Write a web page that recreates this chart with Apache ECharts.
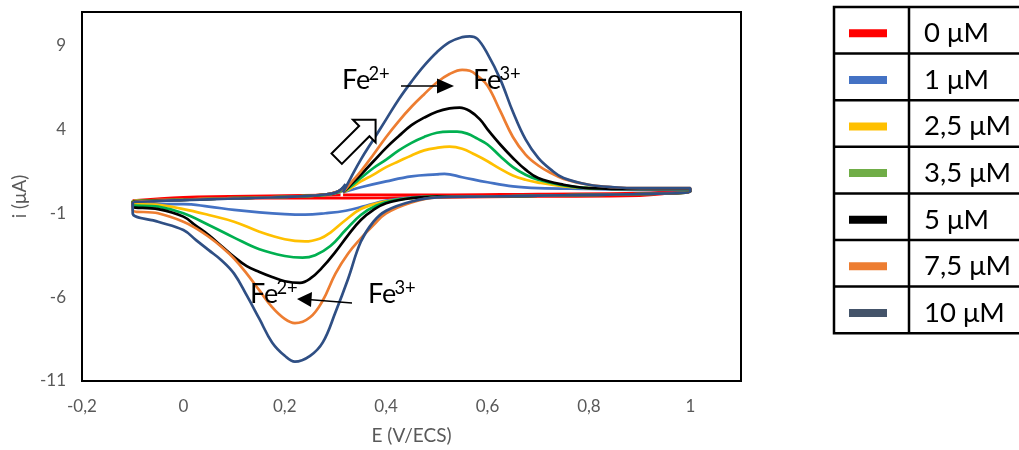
<!DOCTYPE html>
<html><head><meta charset="utf-8">
<script src="https://cdn.jsdelivr.net/npm/echarts@6/dist/echarts.min.js"></script>
<style>html,body{margin:0;padding:0;background:#fff}#c{width:1019px;height:450px}</style>
</head><body><div id="c"></div>
<script>
// ---- data ----
const seriesNames = ['0 μM','1 μM','2,5 μM','3,5 μM','5 μM','7,5 μM','10 μM'];
const lineColors = ['#FF0000','#4472C4','#FFC000','#00B050','#000000','#ED7D31','#2F4F84'];
const legendColors = ['#FF0000','#4472C4','#FFC000','#70AD47','#000000','#ED7D31','#44546A'];
const xTickValues = [-0.2,0,0.2,0.4,0.6,0.8,1];
const xTickLabels = ['-0,2','0','0,2','0,4','0,6','0,8','1'];
const yTickValues = [-11,-6,-1,4,9];
const yTickLabels = ['-11','-6','-1','4','9'];
const xTitle = 'E (V/ECS)';
const yTitle = 'i (μA)';

const cv0 = [[0.315,0.1],[0.5,0.1],[0.7,0.15],[0.9,0.2],[1.0,0.4],[0.9,0.05],[0.7,0.0],[0.5,-0.05],[0.3,-0.1],[0.1,-0.1],[-0.1,-0.25],[0.0,-0.05],[0.2,0.05],[0.31,0.1]];
const cv1 = [[0.315,0.25],[0.35,0.55],[0.40,0.9],[0.45,1.2],[0.50,1.32],[0.515,1.35],[0.55,1.15],[0.60,0.85],[0.65,0.6],[0.70,0.5],[0.80,0.45],[0.9,0.4],[1.0,0.4],
  [1.0,0.3],[0.9,0.15],[0.8,0.1],[0.7,0.05],[0.6,0.0],[0.5,0.0],[0.45,-0.05],[0.40,-0.25],[0.36,-0.55],[0.32,-0.85],[0.28,-1.0],[0.24,-1.08],[0.20,-1.05],[0.15,-0.95],[0.10,-0.8],[0.05,-0.6],[0.0,-0.45],[-0.1,-0.45],
  [-0.1,-0.3],[-0.05,-0.22],[0.0,-0.18],[0.1,-0.1],[0.2,-0.02],[0.28,0.1],[0.305,0.22],[0.315,0.35]];
const cv25 = [[0.315,0.25],[0.33,0.5],[0.35,0.9],[0.375,1.3],[0.40,1.75],[0.425,2.1],[0.45,2.45],[0.475,2.75],[0.50,2.9],[0.525,2.97],[0.55,2.85],[0.575,2.5],[0.60,2.1],[0.625,1.65],[0.65,1.25],[0.675,1.0],[0.70,0.83],[0.75,0.6],[0.80,0.5],[0.9,0.45],[1.0,0.45],
  [1.0,0.3],[0.9,0.15],[0.8,0.1],[0.7,0.05],[0.6,0.0],[0.5,0.0],[0.45,-0.1],[0.39,-0.35],[0.35,-0.75],[0.32,-1.4],[0.29,-2.15],[0.27,-2.5],[0.24,-2.68],[0.20,-2.55],[0.15,-2.1],[0.10,-1.5],[0.05,-1.1],[0.0,-0.75],[-0.05,-0.5],[-0.1,-0.45],
  [-0.1,-0.3],[-0.05,-0.22],[0.0,-0.18],[0.1,-0.1],[0.2,-0.02],[0.28,0.1],[0.305,0.25],[0.315,0.4]];
const cv35 = [[0.315,0.25],[0.33,0.6],[0.35,1.1],[0.375,1.7],[0.40,2.2],[0.425,2.75],[0.45,3.2],[0.475,3.55],[0.50,3.8],[0.525,3.87],[0.54,3.87],[0.56,3.75],[0.58,3.45],[0.60,3.1],[0.625,2.4],[0.65,1.75],[0.675,1.3],[0.70,1.0],[0.75,0.66],[0.80,0.5],[0.9,0.45],[1.0,0.45],
  [1.0,0.3],[0.9,0.15],[0.8,0.1],[0.7,0.05],[0.6,0.0],[0.5,0.0],[0.42,-0.2],[0.38,-0.55],[0.35,-1.1],[0.32,-2.0],[0.29,-2.95],[0.26,-3.5],[0.235,-3.65],[0.20,-3.55],[0.15,-3.15],[0.10,-2.45],[0.05,-1.7],[0.0,-1.0],[-0.05,-0.6],[-0.1,-0.5],
  [-0.1,-0.32],[-0.05,-0.24],[0.0,-0.2],[0.1,-0.1],[0.2,-0.02],[0.28,0.1],[0.305,0.25],[0.315,0.45]];
const cv5 = [[0.315,0.25],[0.33,0.7],[0.35,1.3],[0.375,2.1],[0.40,2.9],[0.425,3.6],[0.45,4.25],[0.475,4.7],[0.50,5.05],[0.525,5.25],[0.545,5.3],[0.565,5.1],[0.585,4.6],[0.60,4.0],[0.625,3.1],[0.65,2.3],[0.675,1.6],[0.70,1.1],[0.75,0.7],[0.80,0.5],[0.90,0.45],[1.0,0.45],
  [1.0,0.3],[0.9,0.15],[0.8,0.1],[0.7,0.05],[0.6,0.0],[0.5,0.0],[0.45,-0.1],[0.40,-0.4],[0.375,-0.8],[0.35,-1.4],[0.325,-2.3],[0.30,-3.3],[0.275,-4.2],[0.25,-4.9],[0.23,-5.15],[0.20,-5.05],[0.175,-4.8],[0.15,-4.5],[0.125,-4.15],[0.10,-3.6],[0.075,-2.95],[0.05,-2.3],[0.025,-1.75],[0.0,-1.2],[-0.05,-0.75],[-0.1,-0.6],
  [-0.1,-0.35],[-0.05,-0.25],[0.0,-0.2],[0.1,-0.1],[0.2,-0.02],[0.28,0.12],[0.305,0.3],[0.32,0.65]];
const cv75 = [[0.315,0.25],[0.33,0.8],[0.35,1.5],[0.375,2.5],[0.40,3.55],[0.425,4.5],[0.45,5.35],[0.475,6.1],[0.50,6.8],[0.525,7.3],[0.55,7.55],[0.565,7.5],[0.58,7.2],[0.60,6.6],[0.625,5.1],[0.65,3.55],[0.675,2.5],[0.70,1.85],[0.725,1.4],[0.75,1.05],[0.80,0.7],[0.85,0.55],[0.90,0.5],[1.0,0.5],
  [1.0,0.3],[0.9,0.15],[0.8,0.1],[0.7,0.05],[0.6,0.0],[0.5,-0.05],[0.45,-0.35],[0.40,-1.0],[0.375,-1.7],[0.35,-2.5],[0.325,-3.4],[0.30,-4.6],[0.275,-6.2],[0.25,-7.2],[0.22,-7.55],[0.20,-7.3],[0.175,-6.6],[0.15,-5.6],[0.125,-4.6],[0.10,-3.7],[0.075,-3.0],[0.05,-2.4],[0.025,-1.9],[0.0,-1.5],[-0.05,-1.0],[-0.1,-0.8],
  [-0.1,-0.38],[-0.05,-0.26],[0.0,-0.2],[0.1,-0.1],[0.2,-0.02],[0.28,0.12],[0.305,0.3],[0.32,0.6]];
const cv10 = [[0.315,0.25],[0.33,1.1],[0.35,2.2],[0.375,3.4],[0.40,4.6],[0.425,5.8],[0.45,6.85],[0.475,7.8],[0.50,8.6],[0.525,9.2],[0.55,9.5],[0.565,9.55],[0.58,9.4],[0.60,8.5],[0.625,7.0],[0.65,5.05],[0.675,3.4],[0.70,2.3],[0.725,1.6],[0.75,1.1],[0.80,0.7],[0.85,0.55],[0.90,0.5],[0.95,0.5],[1.0,0.5],
  [1.0,0.3],[0.9,0.15],[0.8,0.1],[0.7,0.05],[0.6,0.0],[0.5,-0.05],[0.45,-0.3],[0.40,-0.85],[0.375,-1.5],[0.35,-2.7],[0.325,-4.9],[0.30,-6.9],[0.275,-8.7],[0.25,-9.5],[0.22,-9.85],[0.20,-9.5],[0.175,-8.7],[0.15,-7.3],[0.125,-5.9],[0.10,-4.6],[0.075,-3.8],[0.05,-3.2],[0.025,-2.6],[0.0,-2.0],[-0.05,-1.5],[-0.1,-1.0],
  [-0.1,-0.4],[-0.05,-0.28],[0.0,-0.22],[0.1,-0.12],[0.2,-0.03],[0.28,0.12],[0.305,0.3],[0.32,0.75]];
const seriesData = [cv0, cv1, cv25, cv35, cv5, cv75, cv10];

// ---- chart ----
const FONT = 'Lato';
const chart = echarts.init(document.getElementById('c'), null, {renderer:'canvas'});

const graphics = [];
// legend table
const tX = 834, tY = 7, rowH = 46.6, colX = 909, tR = 1030;
graphics.push({type:'rect', shape:{x:tX, y:tY, width:tR-tX, height:rowH*7}, style:{fill:'none', stroke:'#000', lineWidth:2.5}, z:100});
graphics.push({type:'line', shape:{x1:colX, y1:tY, x2:colX, y2:tY+rowH*7}, style:{stroke:'#000', lineWidth:2.5}, z:100});
for (let k = 1; k < 7; k++) {
  graphics.push({type:'line', shape:{x1:tX, y1:tY+k*rowH, x2:tR, y2:tY+k*rowH}, style:{stroke:'#000', lineWidth:2.5}, z:100});
}
seriesNames.forEach((nm, k) => {
  const cy = tY + k*rowH + rowH/2 + 3;
  graphics.push({type:'rect', shape:{x:849, y:cy-4, width:38, height:8}, style:{fill:legendColors[k]}, z:100});
  graphics.push({type:'text', style:{x:924, y:cy, text:nm, fontSize:27.5, fontFamily:FONT, fill:'#000', align:'left', verticalAlign:'middle'}, z:100});
});

// annotations
function label(x, y, main, sup, size) {
  graphics.push({type:'text', style:{x:x, y:y, text:main, fontSize:size, fontFamily:FONT, fill:'#000', align:'left', verticalAlign:'middle'}, z:101});
  graphics.push({type:'text', style:{x:x+size*0.98, y:y-6, text:sup, fontSize:size*0.68, fontFamily:FONT, fill:'#000', align:'left', verticalAlign:'middle'}, z:101});
}
label(342, 80, 'Fe', '2+', 27);
label(473, 80, 'Fe', '3+', 27);
label(250, 294, 'Fe', '2+', 27);
label(368, 294, 'Fe', '3+', 27);
graphics.push({type:'line', shape:{x1:401, y1:86, x2:440, y2:86}, style:{stroke:'#000', lineWidth:1.5}, z:101});
graphics.push({type:'polygon', shape:{points:[[437,78.5],[454,86],[437,93.5]]}, style:{fill:'#000'}, z:101});
graphics.push({type:'line', shape:{x1:352, y1:303, x2:308, y2:299.5}, style:{stroke:'#000', lineWidth:1.5}, z:101});
graphics.push({type:'polygon', shape:{points:[[297,299],[312,292],[311,307]]}, style:{fill:'#000'}, z:101});
// hollow block arrow
(function(){
  const T = [336.7, 158.7], u = [Math.SQRT1_2, -Math.SQRT1_2], n = [Math.SQRT1_2, Math.SQRT1_2];
  const loc = [[0,-7.3],[39,-7.3],[39,-16],[55,0],[39,16],[39,7.3],[0,7.3]];
  const pts = loc.map(p => [T[0]+p[0]*u[0]+p[1]*n[0], T[1]+p[0]*u[1]+p[1]*n[1]]);
  graphics.push({type:'polygon', shape:{points:pts}, style:{fill:'#fff', stroke:'#000', lineWidth:2}, z:101});
})();

function fmtX(v) {
  for (let k = 0; k < xTickValues.length; k++) if (Math.abs(v - xTickValues[k]) < 1e-6) return xTickLabels[k];
  return '';
}
function fmtY(v) {
  for (let k = 0; k < yTickValues.length; k++) if (Math.abs(v - yTickValues[k]) < 1e-6) return yTickLabels[k];
  return '';
}

chart.setOption({
  animation: false,
  backgroundColor: '#fff',
  grid: {left:82, top:12, width:659, height:370, show:true, borderColor:'#000', borderWidth:2, backgroundColor:'#fff'},
  xAxis: {
    type:'value', min:-0.2, max:1.1, interval:0.2,
    axisLine:{show:false}, axisTick:{show:false}, splitLine:{show:false},
    axisLabel:{customValues:xTickValues, formatter:fmtX, color:'#595959', fontSize:17, fontFamily:FONT, margin:17},
    name:xTitle, nameLocation:'middle', nameGap:45,
    nameTextStyle:{color:'#595959', fontSize:19, fontFamily:FONT}
  },
  yAxis: {
    type:'value', min:-11, max:11,
    axisLine:{show:false}, axisTick:{show:false}, splitLine:{show:false},
    axisLabel:{customValues:yTickValues, formatter:fmtY, color:'#595959', fontSize:17, fontFamily:FONT, margin:16},
    name:yTitle, nameLocation:'middle', nameGap:51,
    nameTextStyle:{color:'#595959', fontSize:19, fontFamily:FONT}
  },
  series: seriesData.map((d, k) => ({
    type:'line', name:seriesNames[k], data:d, showSymbol:false, smooth:0.4,
    lineStyle:{color:lineColors[k], width:2.7}, itemStyle:{color:lineColors[k]},
    z: 2 + k
  })),
  graphic: graphics
});
</script></body></html>
